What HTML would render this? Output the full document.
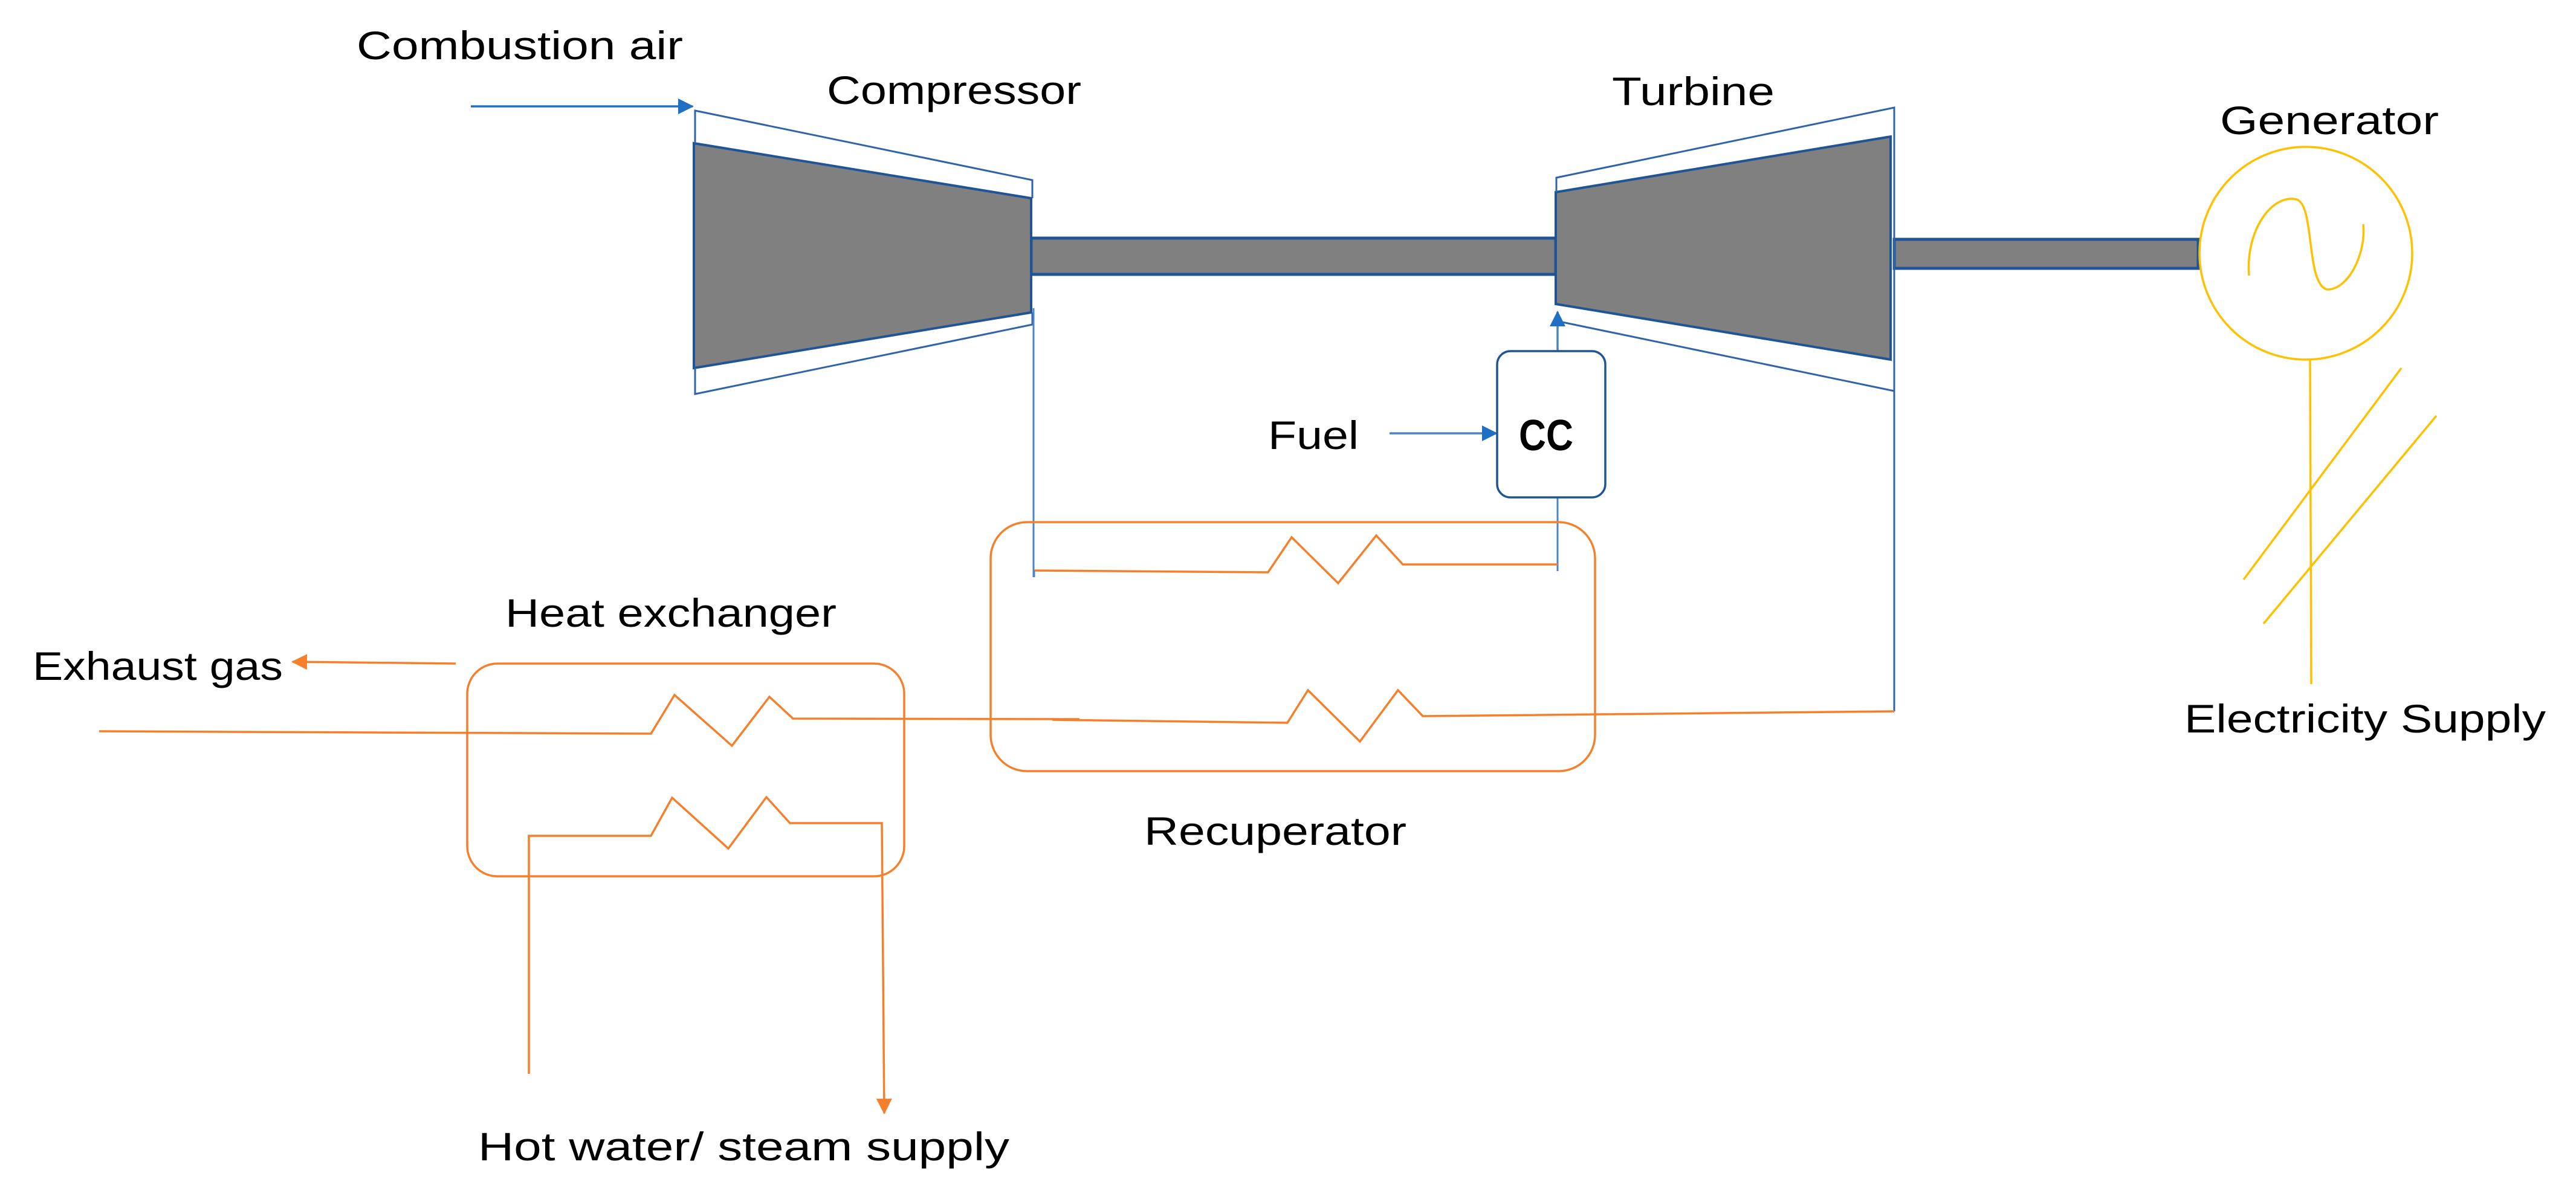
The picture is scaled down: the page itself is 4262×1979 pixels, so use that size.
<!DOCTYPE html>
<html><head><style>html,body{margin:0;padding:0;background:#fff}svg{display:block}</style></head>
<body>
<svg xmlns="http://www.w3.org/2000/svg" width="4262" height="1979" viewBox="0 0 4262 1979">
<defs>
<marker id="ab" markerWidth="26" markerHeight="26" refX="24" refY="13" orient="auto" markerUnits="userSpaceOnUse" viewBox="0 0 26 26"><path d="M0,0 L26,13 L0,26 Z" fill="#1f6fc4"/></marker>
<marker id="ao" markerWidth="26" markerHeight="26" refX="24" refY="13" orient="auto" markerUnits="userSpaceOnUse" viewBox="0 0 26 26"><path d="M0,0 L26,13 L0,26 Z" fill="#f57f2a"/></marker>
</defs>
<g font-family="'Liberation Sans', sans-serif" font-size="66" fill="#000">
<text x="590" y="98" textLength="540" lengthAdjust="spacingAndGlyphs">Combustion air</text>
<text x="1368" y="172" textLength="421" lengthAdjust="spacingAndGlyphs">Compressor</text>
<text x="2667" y="174" textLength="269" lengthAdjust="spacingAndGlyphs">Turbine</text>
<text x="3673" y="222" textLength="362" lengthAdjust="spacingAndGlyphs">Generator</text>
<text x="2098" y="743" textLength="150" lengthAdjust="spacingAndGlyphs">Fuel</text>
<text x="3614" y="1212" textLength="598" lengthAdjust="spacingAndGlyphs">Electricity Supply</text>
<text x="836" y="1037" textLength="548" lengthAdjust="spacingAndGlyphs">Heat exchanger</text>
<text x="54" y="1125" textLength="414" lengthAdjust="spacingAndGlyphs">Exhaust gas</text>
<text x="1893" y="1398" textLength="434" lengthAdjust="spacingAndGlyphs">Recuperator</text>
<text x="791" y="1920" textLength="879" lengthAdjust="spacingAndGlyphs">Hot water/ steam supply</text>
</g>
<!-- shafts -->
<rect x="1706" y="394" width="868" height="60" fill="#808080" stroke="#1f5596" stroke-width="5"/>
<rect x="3134" y="396" width="503" height="48" fill="#808080" stroke="#1f5596" stroke-width="5"/>
<!-- compressor -->
<polygon points="1148,237 1706,328 1706,517 1148,609" fill="#808080" stroke="#1f5596" stroke-width="4"/>
<polyline points="1150,237 1150,183 1708,298 1708,328" fill="none" stroke="#2e64a8" stroke-width="3"/>
<polyline points="1150,609 1150,652 1708,537 1708,517" fill="none" stroke="#2e64a8" stroke-width="3"/>
<!-- turbine -->
<polygon points="2574,318 3128,226 3128,595 2574,503" fill="#808080" stroke="#1f5596" stroke-width="4"/>
<polyline points="2575,318 2575,294 3134,178 3134,1177" fill="none" stroke="#2e64a8" stroke-width="3"/>
<line x1="2575" y1="531" x2="3134" y2="647" stroke="#2e64a8" stroke-width="3"/>
<!-- blue lines -->
<line x1="779" y1="176" x2="1146" y2="176" stroke="#1f6fc4" stroke-width="3.5" marker-end="url(#ab)"/>
<line x1="1710" y1="510" x2="1710" y2="955" stroke="#4a84c9" stroke-width="3"/>
<line x1="2299" y1="717" x2="2476" y2="717" stroke="#4a84c9" stroke-width="3.5" marker-end="url(#ab)"/>
<line x1="2577" y1="595" x2="2577" y2="516" stroke="#4a84c9" stroke-width="3.5" marker-end="url(#ab)"/>
<line x1="2577" y1="823" x2="2577" y2="945" stroke="#4a84c9" stroke-width="3"/>
<rect x="2477" y="581" width="179" height="242" rx="22" fill="#fff" stroke="#1f5596" stroke-width="3.5"/>
<text x="2513" y="745" font-family="'Liberation Sans', sans-serif" font-weight="bold" font-size="72" textLength="90" lengthAdjust="spacingAndGlyphs">CC</text>
<!-- generator -->
<g fill="none" stroke="#ffc000" stroke-width="3.5">
<circle cx="3815" cy="419" r="176"/>
<path d="M3721,456 C3715,380 3760,320 3800,330 C3830,340 3815,470 3850,479 C3885,480 3915,420 3910,371"/>
<line x1="3822" y1="595" x2="3824" y2="1132"/>
<line x1="3973" y1="609" x2="3712" y2="959"/>
<line x1="4031" y1="688" x2="3745" y2="1032"/>
</g>
<!-- orange -->
<g fill="none" stroke="#f57f2a" stroke-width="3.5">
<rect x="1639" y="864" width="1000" height="412" rx="60"/>
<rect x="773" y="1098" width="723" height="352" rx="50"/>
<polyline points="1711,944 2098,947 2137,889 2214,965 2277,886 2321,934 2577,934"/>
<polyline points="1741,1191 2130,1196 2164,1142 2250,1227 2313,1142 2354,1185 3134,1177"/>
<polyline points="164,1210 1077,1214 1116,1150 1211,1234 1273,1153 1312,1189 1786,1190"/>
<polyline points="875,1777 875,1383 1077,1383 1112,1320 1205,1404 1268,1319 1307,1362 1459,1362 1463,1842" marker-end="url(#ao)"/>
<line x1="754" y1="1098" x2="484" y2="1095" marker-end="url(#ao)"/>
</g>
<line x1="1711" y1="944" x2="1711" y2="955" stroke="#4a84c9" stroke-width="3"/>
</svg>
</body></html>
